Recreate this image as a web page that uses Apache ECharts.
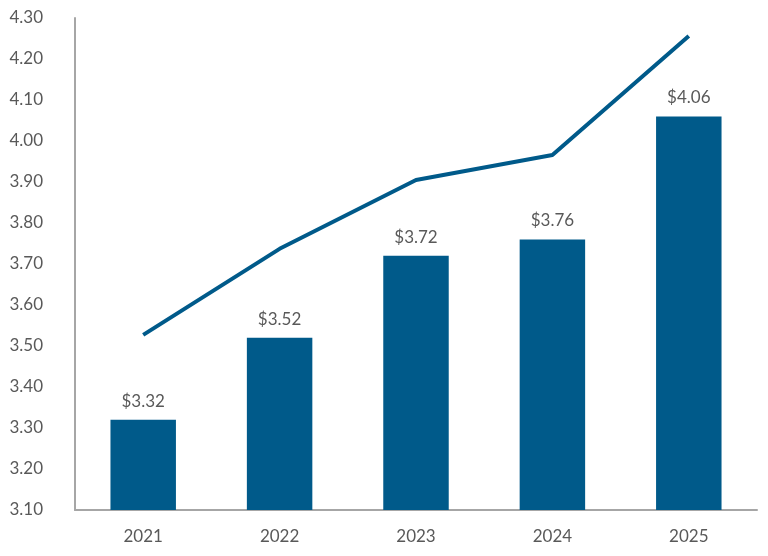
<!DOCTYPE html>
<html>
<head>
<meta charset="utf-8">
<script src="https://cdn.jsdelivr.net/npm/echarts@6/dist/echarts.min.js"></script>
<style>html,body{margin:0;padding:0;background:#fff}#c{width:768px;height:556px}</style>
</head>
<body>
<div id="c"></div>
<script>
const categories = ['2021', '2022', '2023', '2024', '2025'];
const barValues = [3.32, 3.52, 3.72, 3.76, 4.06];
const lineValues = [3.527, 3.737, 3.905, 3.966, 4.256];

const chart = echarts.init(document.getElementById('c'));
chart.setOption({
  animation: false,
  grid: { left: 75, right: 11, top: 18, bottom: 46 },
  xAxis: {
    type: 'category',
    data: categories,
    axisLine: { lineStyle: { color: '#a6a6a6', width: 2 } },
    axisTick: { show: false },
    axisLabel: { color: '#595959', fontSize: 17, fontFamily: 'Lato', margin: 18 }
  },
  yAxis: {
    type: 'value',
    min: 3.1, max: 4.3, interval: 0.1,
    axisLine: { show: true, lineStyle: { color: '#a6a6a6', width: 2 } },
    axisTick: { show: false },
    splitLine: { show: false },
    axisLabel: { color: '#595959', fontSize: 17, fontFamily: 'Lato', margin: 32,
      formatter: v => v.toFixed(2) }
  },
  series: [
    {
      type: 'bar',
      data: barValues,
      barWidth: '48%',
      itemStyle: { color: '#005a8a' },
      label: { show: true, position: 'top', distance: 10, color: '#595959', fontSize: 17, fontFamily: 'Lato',
        formatter: p => '$' + p.value.toFixed(2) }
    },
    {
      type: 'line',
      data: lineValues,
      symbol: 'none',
      lineStyle: { color: '#005a8a', width: 4 },
      z: 3
    }
  ]
});
</script>
</body>
</html>
